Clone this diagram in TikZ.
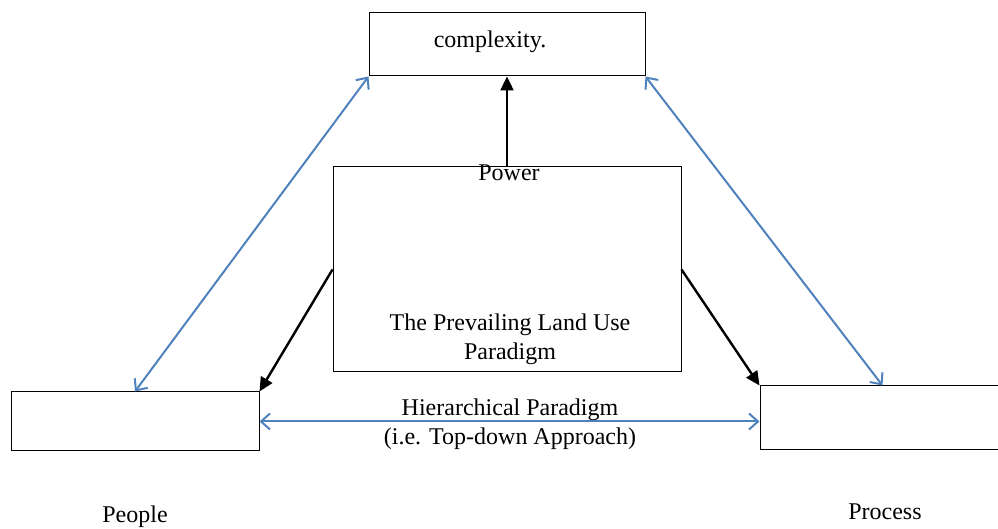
\documentclass[tikz,border=0pt]{standalone}
\usepackage{fontspec}
\setmainfont{Liberation Serif}
\usetikzlibrary{calc,positioning,arrows.meta}
\definecolor{lnblue}{RGB}{79,129,189}
\begin{document}
\begin{tikzpicture}[x=0.5pt, y=-0.5pt, txt/.style={inner sep=0pt, align=center, font=\fontsize{12}{14.5}\selectfont},
  blu/.style={draw=lnblue, line width=1pt, {Straight Barb[length=4.5pt,width=8pt]}-{Straight Barb[length=4.5pt,width=8pt]}},
  blk/.style={draw, line width=1.2pt, -{Triangle[length=7pt,width=6.5pt]}}]
\tikzstyle{box}=[rectangle, draw, line width=0.5pt, inner sep=0pt]
\useasboundingbox (0,0) rectangle (998,529);
\node[box, minimum width=138pt, minimum height=31.5pt] (top) at (507,44.5) {};
\node[box, minimum width=174pt, minimum height=102.5pt] (mid) at (507,269.5) {};
\node[box, minimum width=124pt, minimum height=29.5pt] (people) at (135,421.5) {};
\node[box, minimum width=122.5pt, minimum height=32pt] (process) at (882.5,418) {};
\node[txt] (cplx) at (490,42) {complexity.};
\node[txt] (pow) at (509,173) {Power};
\node[txt] (plu) at (510,339) {The Prevailing Land Use\\Paradigm};
\node[txt] (hier) at (510,424) {Hierarchical Paradigm\\(i.e. Top-down Approach)};
\node[txt] (ppl) at (135,517) {People};
\node[txt] (prc) at (885,512) {Process};
\draw[blk] (mid.north) -- (mid.north |- top.south);
\draw[blk] (mid.west) -- (people.north east);
\draw[blk] (mid.east) -- (process.north west);
\foreach \i/\j in {top.south west/people.north, top.south east/process.north}{\draw[blu] (\i) -- (\j);}
\draw[blu] (people.east) -- (people.east -| process.west);
\end{tikzpicture}
\end{document}
